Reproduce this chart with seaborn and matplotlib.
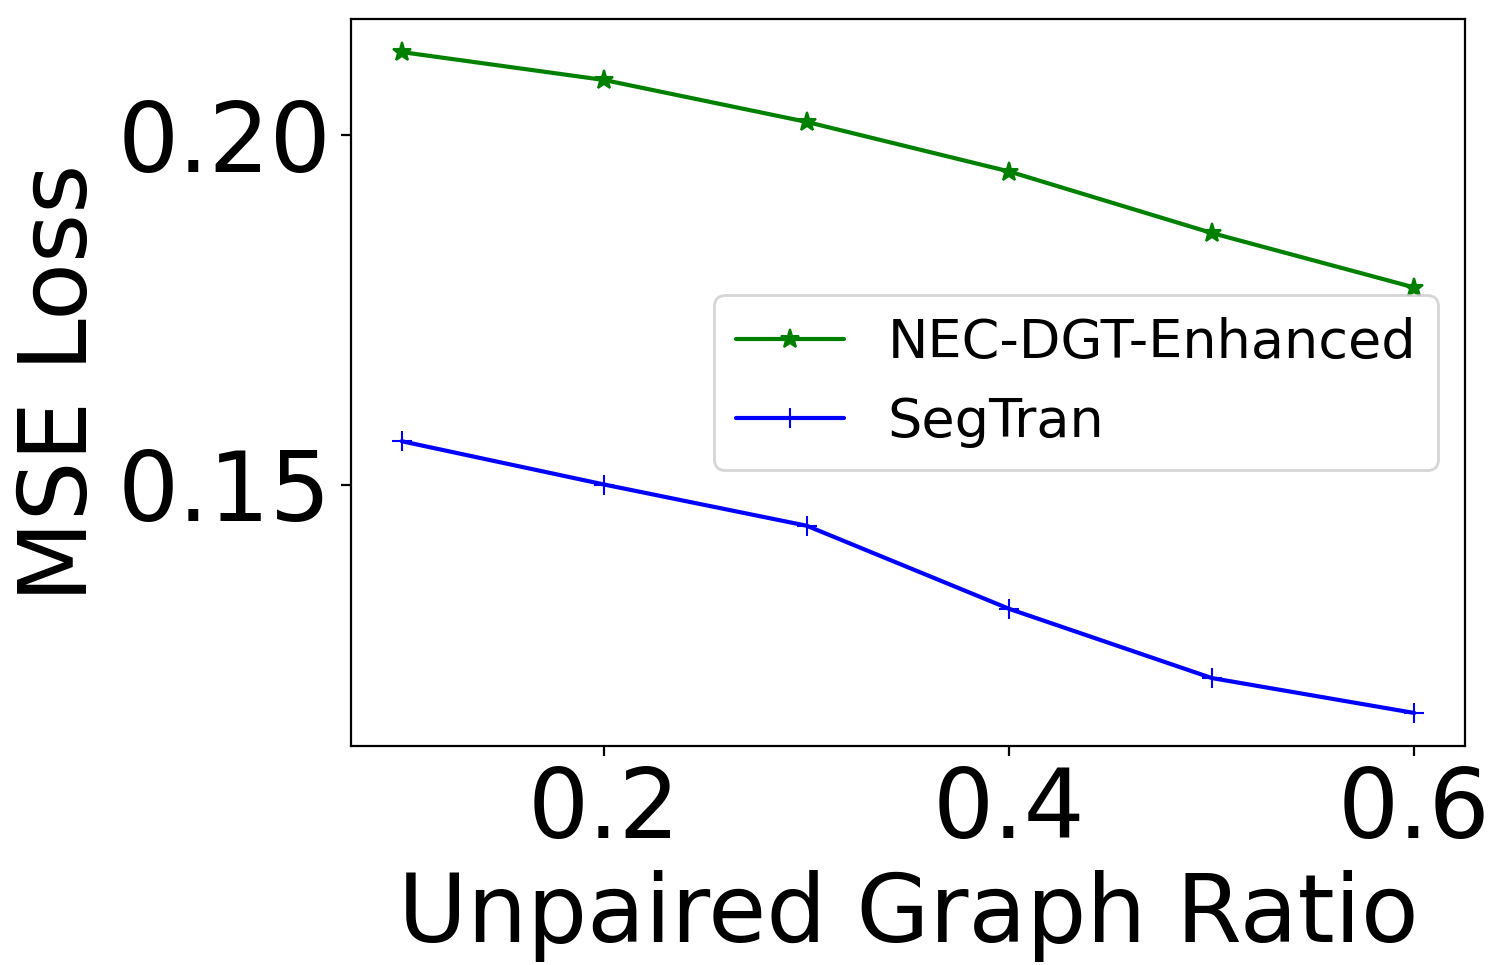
import seaborn as sns
import matplotlib.pyplot as plt
import pandas as pd

# values
ratios = [0.1, 0.2, 0.3, 0.4, 0.5, 0.6]
nec_dgt = [0.2119, 0.2079, 0.2019, 0.1948, 0.1860, 0.1782]
segtran = [0.1562, 0.1500, 0.1441, 0.1322, 0.1223, 0.1173]

df = pd.DataFrame({"ratio": ratios, "NEC-DGT-Enhanced": nec_dgt, "SegTran": segtran})

sns.set_style("white")
plt.rcParams["font.family"] = ["DejaVu Sans"]
plt.rcParams["text.color"] = "black"
plt.rcParams["axes.labelcolor"] = "black"
plt.rcParams["xtick.color"] = "black"
plt.rcParams["ytick.color"] = "black"

fig, ax = plt.subplots(figsize=(7.46, 4.825), dpi=200)
fig.subplots_adjust(left=0.2353, right=0.9819, top=0.9803, bottom=0.2269)

sns.lineplot(data=df, x="ratio", y="NEC-DGT-Enhanced", color="green", marker="*",
             markeredgecolor="green", markersize=7, linewidth=1.5, label="NEC-DGT-Enhanced", ax=ax)
sns.lineplot(data=df, x="ratio", y="SegTran", color="blue", marker="+",
             markeredgecolor="blue", markersize=7, linewidth=1.5, label="SegTran", ax=ax)

ax.set_xticks([0.2, 0.4, 0.6])
ax.set_yticks([0.15, 0.20])
ax.set_yticklabels(["0.15", "0.20"])
ax.tick_params(axis="both", labelsize=34.5, direction="out", length=3.5, width=0.8,
               left=True, bottom=True, colors="black")
ax.set_xlabel("Unpaired Graph Ratio", fontsize=34, color="black")
ax.set_ylabel("MSE Loss", fontsize=34, color="black")
for s in ax.spines.values():
    s.set_color("black")
    s.set_linewidth(0.8)

leg = ax.legend(loc="center right", fontsize=19.5, frameon=True)
for t in leg.get_texts():
    t.set_color("black")

plt.savefig("out.png", dpi=200)
